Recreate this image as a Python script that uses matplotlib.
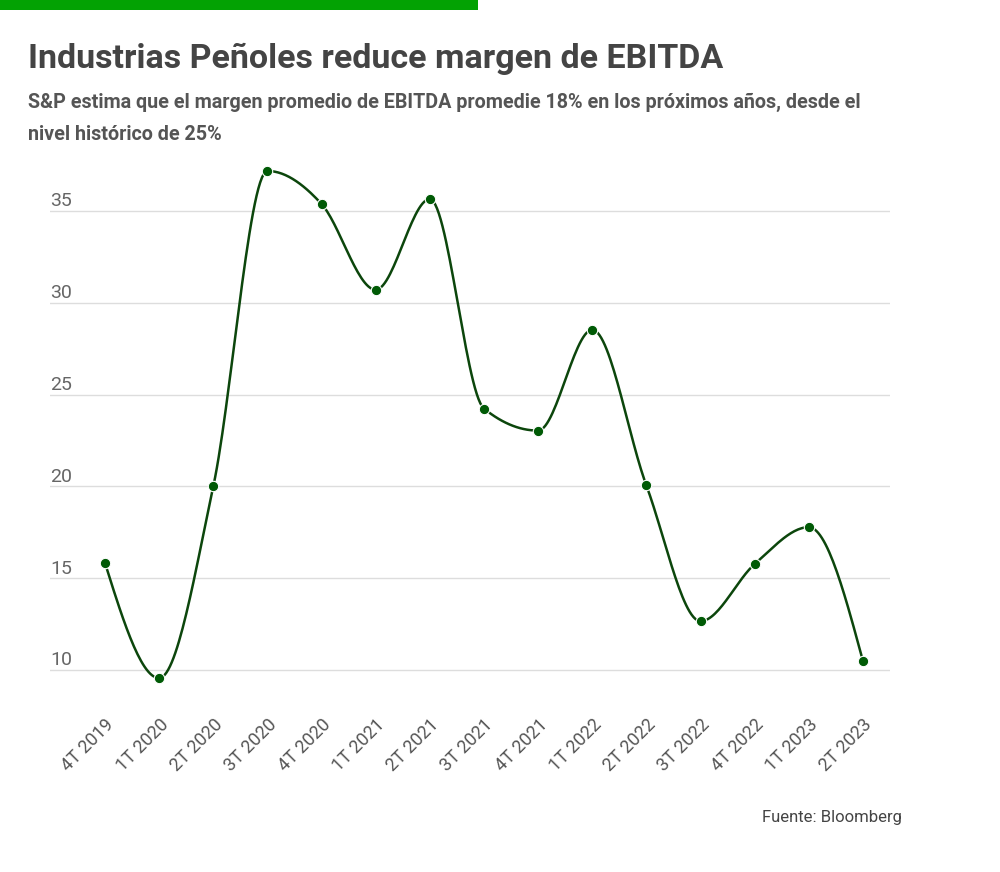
import numpy as np
import matplotlib
matplotlib.use("Agg")
import matplotlib.pyplot as plt
from matplotlib.transforms import blended_transform_factory
from matplotlib.patches import Rectangle

plt.rcParams['font.family'] = ['Roboto', 'DejaVu Sans']

categories = ["4T 2019", "1T 2020", "2T 2020", "3T 2020", "4T 2020", "1T 2021", "2T 2021",
              "3T 2021", "4T 2021", "1T 2022", "2T 2022", "3T 2022", "4T 2022", "1T 2023", "2T 2023"]
margin = [15.83, 9.56, 20.0, 37.18, 35.38, 30.71, 35.65, 24.24, 23.04, 28.53, 20.05, 12.66, 15.77, 17.78, 10.49]
yticks = [10, 15, 20, 25, 30, 35]

title = "Industrias Peñoles reduce margen de EBITDA"
subtitle1 = "S&P estima que el margen promedio de EBITDA promedie 18% en los próximos años, desde el"
subtitle2 = "nivel histórico de 25%"
source = "Fuente: Bloomberg"


def monotone_x(x, y, n=30):
    """d3 curveMonotoneX style interpolation for drawing the line."""
    x = np.asarray(x, float)
    y = np.asarray(y, float)
    h = np.diff(x)
    s = np.diff(y) / h
    m = np.zeros_like(y)
    for i in range(1, len(y) - 1):
        if s[i - 1] * s[i] <= 0:
            m[i] = 0
        else:
            p = (s[i - 1] * h[i] + s[i] * h[i - 1]) / (h[i - 1] + h[i])
            m[i] = (np.sign(s[i - 1]) + np.sign(s[i])) * min(abs(s[i - 1]), abs(s[i]), 0.5 * abs(p))
    m[0] = (3 * s[0] - m[1]) / 2 if len(y) > 2 else s[0]
    m[-1] = (3 * s[-1] - m[-2]) / 2 if len(y) > 2 else s[-1]
    xs, ys = [], []
    for i in range(len(y) - 1):
        t = np.linspace(0, 1, n, endpoint=(i == len(y) - 2))
        h00 = 2 * t**3 - 3 * t**2 + 1
        h10 = t**3 - 2 * t**2 + t
        h01 = -2 * t**3 + 3 * t**2
        h11 = t**3 - t**2
        xs.append(x[i] + t * h[i])
        ys.append(h00 * y[i] + h10 * h[i] * m[i] + h01 * y[i + 1] + h11 * h[i] * m[i + 1])
    return np.concatenate(xs), np.concatenate(ys)


fig = plt.figure(figsize=(10, 8.72), dpi=100)
fig.patch.set_facecolor("white")

# top green bar
fig.patches.append(Rectangle((0, 1 - 10 / 872), 478 / 1000, 10 / 872, transform=fig.transFigure,
                             facecolor="#03a203", edgecolor="none"))

fig.text(0.028, 1 - 59 / 872, title, fontsize=24.5, fontweight="bold", color="#444444", va="center")
fig.text(0.028, 1 - 102 / 872, subtitle1, fontsize=14.2, fontweight="bold", color="#555555", va="center")
fig.text(0.028, 1 - 134 / 872, subtitle2, fontsize=14.2, fontweight="bold", color="#555555", va="center")
fig.text(0.902, 1 - 817 / 872, source, fontsize=12, color="#444444", ha="right", va="center")

ax = fig.add_axes([0.050, (872 - 699.4) / 872, 0.840, 543.5 / 872])
x = np.arange(len(categories))
ax.set_xlim(-1.016, 14.5)
ax.set_ylim(8.4, 38.0)

for spine in ax.spines.values():
    spine.set_visible(False)

ax.set_yticks(yticks)
ax.set_yticklabels([])
ax.tick_params(axis="y", length=0)
ax.grid(axis="y", color="#dddddd", linewidth=1)
ax.set_axisbelow(True)
trans = blended_transform_factory(ax.transAxes, ax.transData)
for v in yticks:
    ax.text(0.0, v, str(v) + "\n", transform=trans, fontsize=14, color="#666666",
            ha="left", va="center", linespacing=1.1)

xs, ys = monotone_x(x, margin)
ax.plot(xs, ys, color="#0c460c", linewidth=1.8, zorder=3)
ax.plot(x, margin, linestyle="none", marker="o", markersize=7.5, color="#005a05",
        markeredgecolor="white", markeredgewidth=0.8, zorder=4)

ax.set_xticks(x)
ax.set_xticklabels(categories, rotation=45, ha="right", va="top", rotation_mode="anchor",
                   fontsize=13, color="#555555")
ax.tick_params(axis="x", length=0, pad=12)

fig.savefig("out.png", dpi=100, facecolor="white")
